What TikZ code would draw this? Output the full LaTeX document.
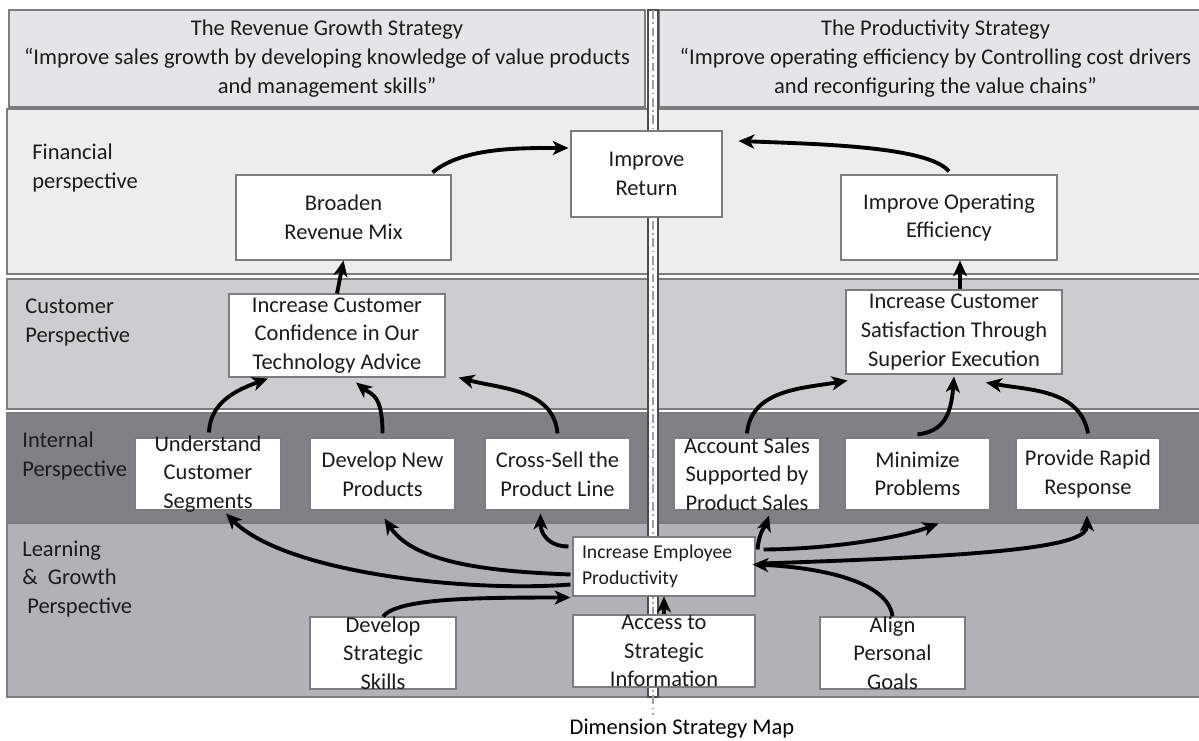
\documentclass[tikz,border=0pt]{standalone}
\usepackage{fontspec}
\setmainfont{Carlito}
\usetikzlibrary{calc,arrows.meta}

\newdimen\pxu \pxu=0.02cm
\definecolor{headfill}{RGB}{229,229,231}
\definecolor{finfill}{RGB}{237,237,238}
\definecolor{custfill}{RGB}{204,205,207}
\definecolor{intfill}{RGB}{128,129,132}
\definecolor{lrnfill}{RGB}{177,178,181}
\definecolor{edgegray}{RGB}{125,125,128}
\definecolor{ink}{RGB}{28,28,28}

\tikzset{
  band/.style={draw=edgegray, line width=0.6pt},
  head/.style={band, fill=headfill, inner sep=0pt, align=center, text=ink},
  goal/.style={draw=edgegray, fill=white, line width=0.6pt, inner sep=0pt, text=ink},
  rowlabel/.style={anchor=west, inner sep=0pt, align=left, text=ink},
  link/.style={-{Stealth[length=9pt,width=8pt,inset=2.5pt]}, line width=2.2pt, black},
}

\newcommand{\goal}[6]{%
  \node[goal] (#1) at (#2,#3)
    {\parbox[c][#5\pxu][c]{#4\pxu}{\centering #6}};}

\begin{document}
\begin{tikzpicture}[x=0.02cm, y=0.02cm, font=\fontsize{12.8}{16.3}\selectfont]
  \useasboundingbox (0,0) rectangle (1199,740);
  \fill[white] (0,0) rectangle (1199,740);
  \clip (0,0) rectangle (1199,740);

  % perspective rows
  \draw[band, fill=finfill]  (7,466) rectangle (1212,631);
  \draw[band, fill=custfill] (7,331) rectangle (1212,461);
  \draw[band, fill=intfill]  (7,218) rectangle (1212,327);
  \draw[band, fill=lrnfill]  (7,43)  rectangle (1212,217);

  \node[head, minimum width=636\pxu, minimum height=97\pxu] (revenue) at (327,681.5)
    {The Revenue Growth Strategy\\“Improve sales growth by developing knowledge of value products\\and management skills”};
  \node[head, minimum width=553\pxu, minimum height=97\pxu] (product) at (935.5,681.5)
    {The Productivity Strategy\\“Improve operating efficiency by Controlling cost drivers\\and reconfiguring the value chains”};

  % divider
  \draw[black!70, fill=white, line width=0.6pt] (648,43) rectangle (658,730);
  \draw[gray!75, line width=1pt, dash pattern=on 5pt off 2pt on 1pt off 2pt] (653,730) -- (653,25);

  \node[rowlabel] (finlabel)  at (32,572)   {Financial\\perspective};
  \node[rowlabel] (custlabel) at (25,417.5) {Customer\\Perspective};
  \node[rowlabel] (intlabel)  at (22,284)   {Internal\\Perspective};
  \node[rowlabel] (lrnlabel)  at (22,161)   {Learning\\\&\ \ Growth\\\hspace*{5\pxu}Perspective};

  \goal{ret}{646.5}{566}{151}{86}{Improve\\Return}
  \goal{brd}{343.5}{522.5}{215}{85}{Broaden\\Revenue Mix}
  \goal{eff}{949}{522.5}{216}{85}{Improve Operating\\Efficiency}
  \goal{conf}{337}{404.5}{216}{83}{Increase Customer\\Confidence in Our\\Technology Advice}
  \goal{sat}{954}{408}{216}{84}{Increase Customer\\Satisfaction Through\\Superior Execution}
  \goal{seg}{208}{266}{146}{72}{Understand\\Customer\\Segments}
  \goal{newp}{382.5}{266}{145}{72}{Develop New\\Products}
  \goal{xsell}{557.5}{266}{145}{72}{Cross-Sell the\\Product Line}
  \goal{acct}{747}{266}{146}{72}{Account Sales\\Supported by\\Product Sales}
  \goal{minp}{917.5}{266}{145}{72}{Minimize\\Problems}
  \goal{rapid}{1088}{266}{144}{72}{Provide Rapid\\Response}
  \goal{skill}{383}{87}{146}{72}{Develop\\Strategic\\Skills}
  \goal{info}{664}{89}{182}{72}{Access to\\Strategic\\Information}
  \goal{goals}{892.5}{87}{145}{72}{Align\\Personal\\Goals}
  \node[goal, inner xsep=9\pxu] (emp) at (664,173.5)
    {\parbox[c][59\pxu][c]{164\pxu}{\raggedright\fontsize{11.2}{14.7}\selectfont Increase Employee\\Productivity}};

  \node (title) at (682,11) {Dimension Strategy Map};

  % arrows
  \draw[link] ($(brd.north east)+(-19,2)$) .. controls +(30,25) and +(-50,0) .. ($(ret.west)+(-2,26)$);
  \draw[link] ($(eff.north)+(0,3)$) .. controls +(-20,25) and +(80,-3) .. ($(ret.east)+(16,33)$);
  \draw[link] (conf.north) -- (brd.south);
  \draw[link] ($(sat.north)+(6,0)$) -- ($(eff.south)+(11,0)$);

  \draw[link] ($(seg.north)+(1,5)$) to[out=88,in=200] ($(conf.south)+(-69,-1)$);
  \draw[link] ($(newp.north)+(0,4)$) .. controls +(0,40) and +(15,-12) .. ($(conf.south)+(19,-5)$);
  \draw[link] ($(xsell.north)+(0,4)$) to[out=95,in=-15] ($(conf.south east)+(13,0)$);
  \draw[link] ($(acct.north)+(0,4)$) to[out=85,in=190] ($(sat.south west)+(2,-6)$);
  \draw[link] ($(minp.north)+(0,3)$) .. controls +(25,3) and +(-3,-40) .. ($(sat.south)+(0,-2)$);
  \draw[link] ($(rapid.north)+(0,4)$) to[out=100,in=-10] ($(sat.south)+(32,-8)$);

  \draw[link] ($(emp.west)+(-2,-18)$) .. controls +(-100,-8) and +(60,-60) .. ($(seg.south)+(18,-3)$);
  \draw[link] ($(emp.west)+(-2,-8)$) .. controls +(-80,3) and +(30,-45) .. ($(newp.south)+(2,-8)$);
  \draw[link] ($(emp.north west)+(-4,-10)$) .. controls +(-20,0) and +(0,-20) .. ($(xsell.south)+(-17,-3)$);
  \draw[link] (skill.north) .. controls +(15,18) and +(-100,0) .. ($(emp.south west)+(-2,-1)$);
  \draw[link] ($(emp.north east)+(2,-13)$) .. controls +(2,20) and +(-4,-12) .. ($(acct.south)+(22,-5)$);
  \draw[link] ($(emp.north east)+(8,-13)$) .. controls +(60,0) and +(-40,-15) .. ($(minp.south)+(21,-13)$);
  \draw[link] ($(emp.east)+(5,3)$) .. controls +(250,8) and +(0,-30) .. ($(rapid.south)+(-1,-5)$);
  \draw[link] (goals.north) .. controls +(-5,40) and +(50,-2) .. ($(emp.east)+(-3,2)$);
  \draw[link] (info.north) -- (emp.south);
\end{tikzpicture}
\end{document}
